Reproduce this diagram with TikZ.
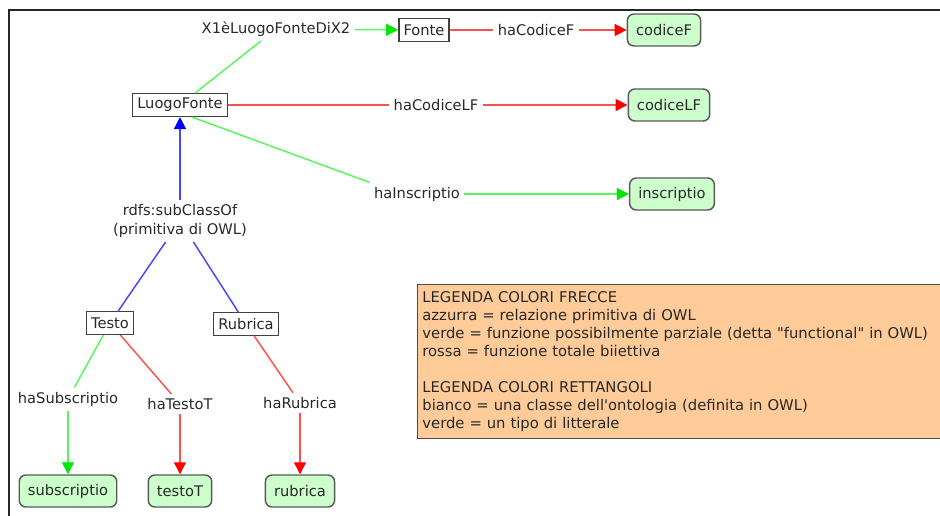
\documentclass[tikz,border=0pt]{standalone}
\usepackage{fontspec}
\setmainfont{DejaVu Sans}
\usetikzlibrary{arrows.meta}

\definecolor{testo}{RGB}{40,40,40}
\definecolor{lineaverde}{RGB}{90,245,90}
\definecolor{punteverde}{RGB}{0,230,0}
\definecolor{linearossa}{RGB}{255,80,80}
\definecolor{punterossa}{RGB}{255,0,0}
\definecolor{lineablu}{RGB}{70,70,255}
\definecolor{puntablu}{RGB}{0,0,255}
\definecolor{fondoverde}{RGB}{204,255,204}
\definecolor{fondolegenda}{RGB}{255,204,153}

\tikzset{every picture/.style={line width=0.75pt}}
\tikzset{
  classe/.style={draw=black!75,fill=white,line width=1.1pt,text=testo,inner xsep=3.5pt,minimum height=17pt,font=\fontsize{11}{13}\selectfont},
  letterale/.style={draw=black!65,fill=fondoverde,line width=1.1pt,rounded corners=5pt,text=testo,inner xsep=6.5pt,minimum height=24pt,font=\fontsize{11}{13}\selectfont},
  relazione/.style={text=testo,inner sep=3pt,align=center,font=\fontsize{11}{14}\selectfont},
  puntaverde/.style={-{Triangle[length=9pt,width=9pt,color=punteverde]}},
  puntarossa/.style={-{Triangle[length=9pt,width=9pt,color=punterossa]}},
  puntablu/.style={-{Triangle[length=9pt,width=9pt,color=puntablu]}}
}

\begin{document}
\begin{tikzpicture}[x=0.75pt,y=0.75pt,yscale=-1,xscale=1]
\useasboundingbox (0,0) rectangle (940,516);
\clip (0,0) rectangle (940,516);

%Frame
\draw [black!85,line width=1pt] (9,516) -- (9,10) -- (940,10) ;

% Classi
\node [classe] (fonte) at (424,30) {Fonte};
\node [classe] (lf) at (180,105) {LuogoFonte};
\node [classe] (ts) at (110,323) {Testo};
\node [classe] (rb) at (246,324) {Rubrica};

% Letterali
\node [letterale] (cf) at (664,30) {codiceF};
\node [letterale] (clf) at (669,105) {codiceLF};
\node [letterale] (ins) at (672,194) {inscriptio};
\node [letterale] (sub) at (68,491) {subscriptio};
\node [letterale] (tt) at (180,491) {testoT};
\node [letterale] (rub) at (300,491) {rubrica};

% Relazioni
\node [relazione] (x1) at (276,29) {X1èLuogoFonteDiX2};
\node [relazione] (hcf) at (536,30) {haCodiceF};
\node [relazione] (hclf) at (436,105) {haCodiceLF};
\node [relazione] (hins) at (417,194) {haInscriptio};
\node [relazione] (sco) at (180,221) {rdfs:subClassOf\\(primitiva di OWL)};
\node [relazione] (hsub) at (68,399) {haSubscriptio};
\node [relazione] (htt) at (180,404) {haTestoT};
\node [relazione] (hrub) at (300,403) {haRubrica};

% Frecce verdi
\draw [lineaverde,line width=1.1pt] (lf) -- (x1) ;
\draw [lineaverde,line width=1.1pt,puntaverde] (x1) -- (fonte) ;
\draw [lineaverde,line width=1.1pt] ([xshift=9pt]lf.south) -- (hins.north west) ;
\draw [lineaverde,line width=1.1pt,puntaverde] (hins) -- (ins) ;
\draw [lineaverde,line width=1.1pt] (ts) -- (hsub) ;
\draw [lineaverde,line width=1.1pt,puntaverde] (hsub) -- (sub) ;

% Frecce rosse
\draw [linearossa,line width=1.1pt] (fonte) -- (hcf) ;
\draw [linearossa,line width=1.1pt,puntarossa] (hcf) -- (cf) ;
\draw [linearossa,line width=1.1pt] (lf) -- (hclf) ;
\draw [linearossa,line width=1.1pt,puntarossa] (hclf) -- (clf) ;
\draw [linearossa,line width=1.1pt] (ts) -- (htt) ;
\draw [linearossa,line width=1.1pt,puntarossa] (htt) -- (tt) ;
\draw [linearossa,line width=1.1pt] (rb) -- (hrub) ;
\draw [linearossa,line width=1.1pt,puntarossa] (hrub) -- (rub) ;

% Frecce blu
\draw [lineablu,line width=1.1pt,puntablu] (sco) -- (lf) ;
\draw [lineablu,line width=1.1pt] (sco) -- (ts) ;
\draw [lineablu,line width=1.1pt] (sco) -- (rb) ;

% Legenda
\node [draw=black!70,fill=fondolegenda,line width=1.1pt,anchor=north west,text=testo,align=left,text width=420pt,inner xsep=3.5pt,inner ysep=4pt,minimum height=115.5pt,font=\fontsize{11.1}{13.5}\selectfont] (leg) at (417,284) {LEGENDA COLORI FRECCE\\azzurra = relazione primitiva di OWL\\verde = funzione possibilmente parziale (detta \textquotedbl functional\textquotedbl\ in OWL)\\rossa = funzione totale biiettiva\\[13.5pt]LEGENDA COLORI RETTANGOLI\\bianco = una classe dell\textquotesingle ontologia (definita in OWL)\\verde = un tipo di litterale};

\end{tikzpicture}
\end{document}
